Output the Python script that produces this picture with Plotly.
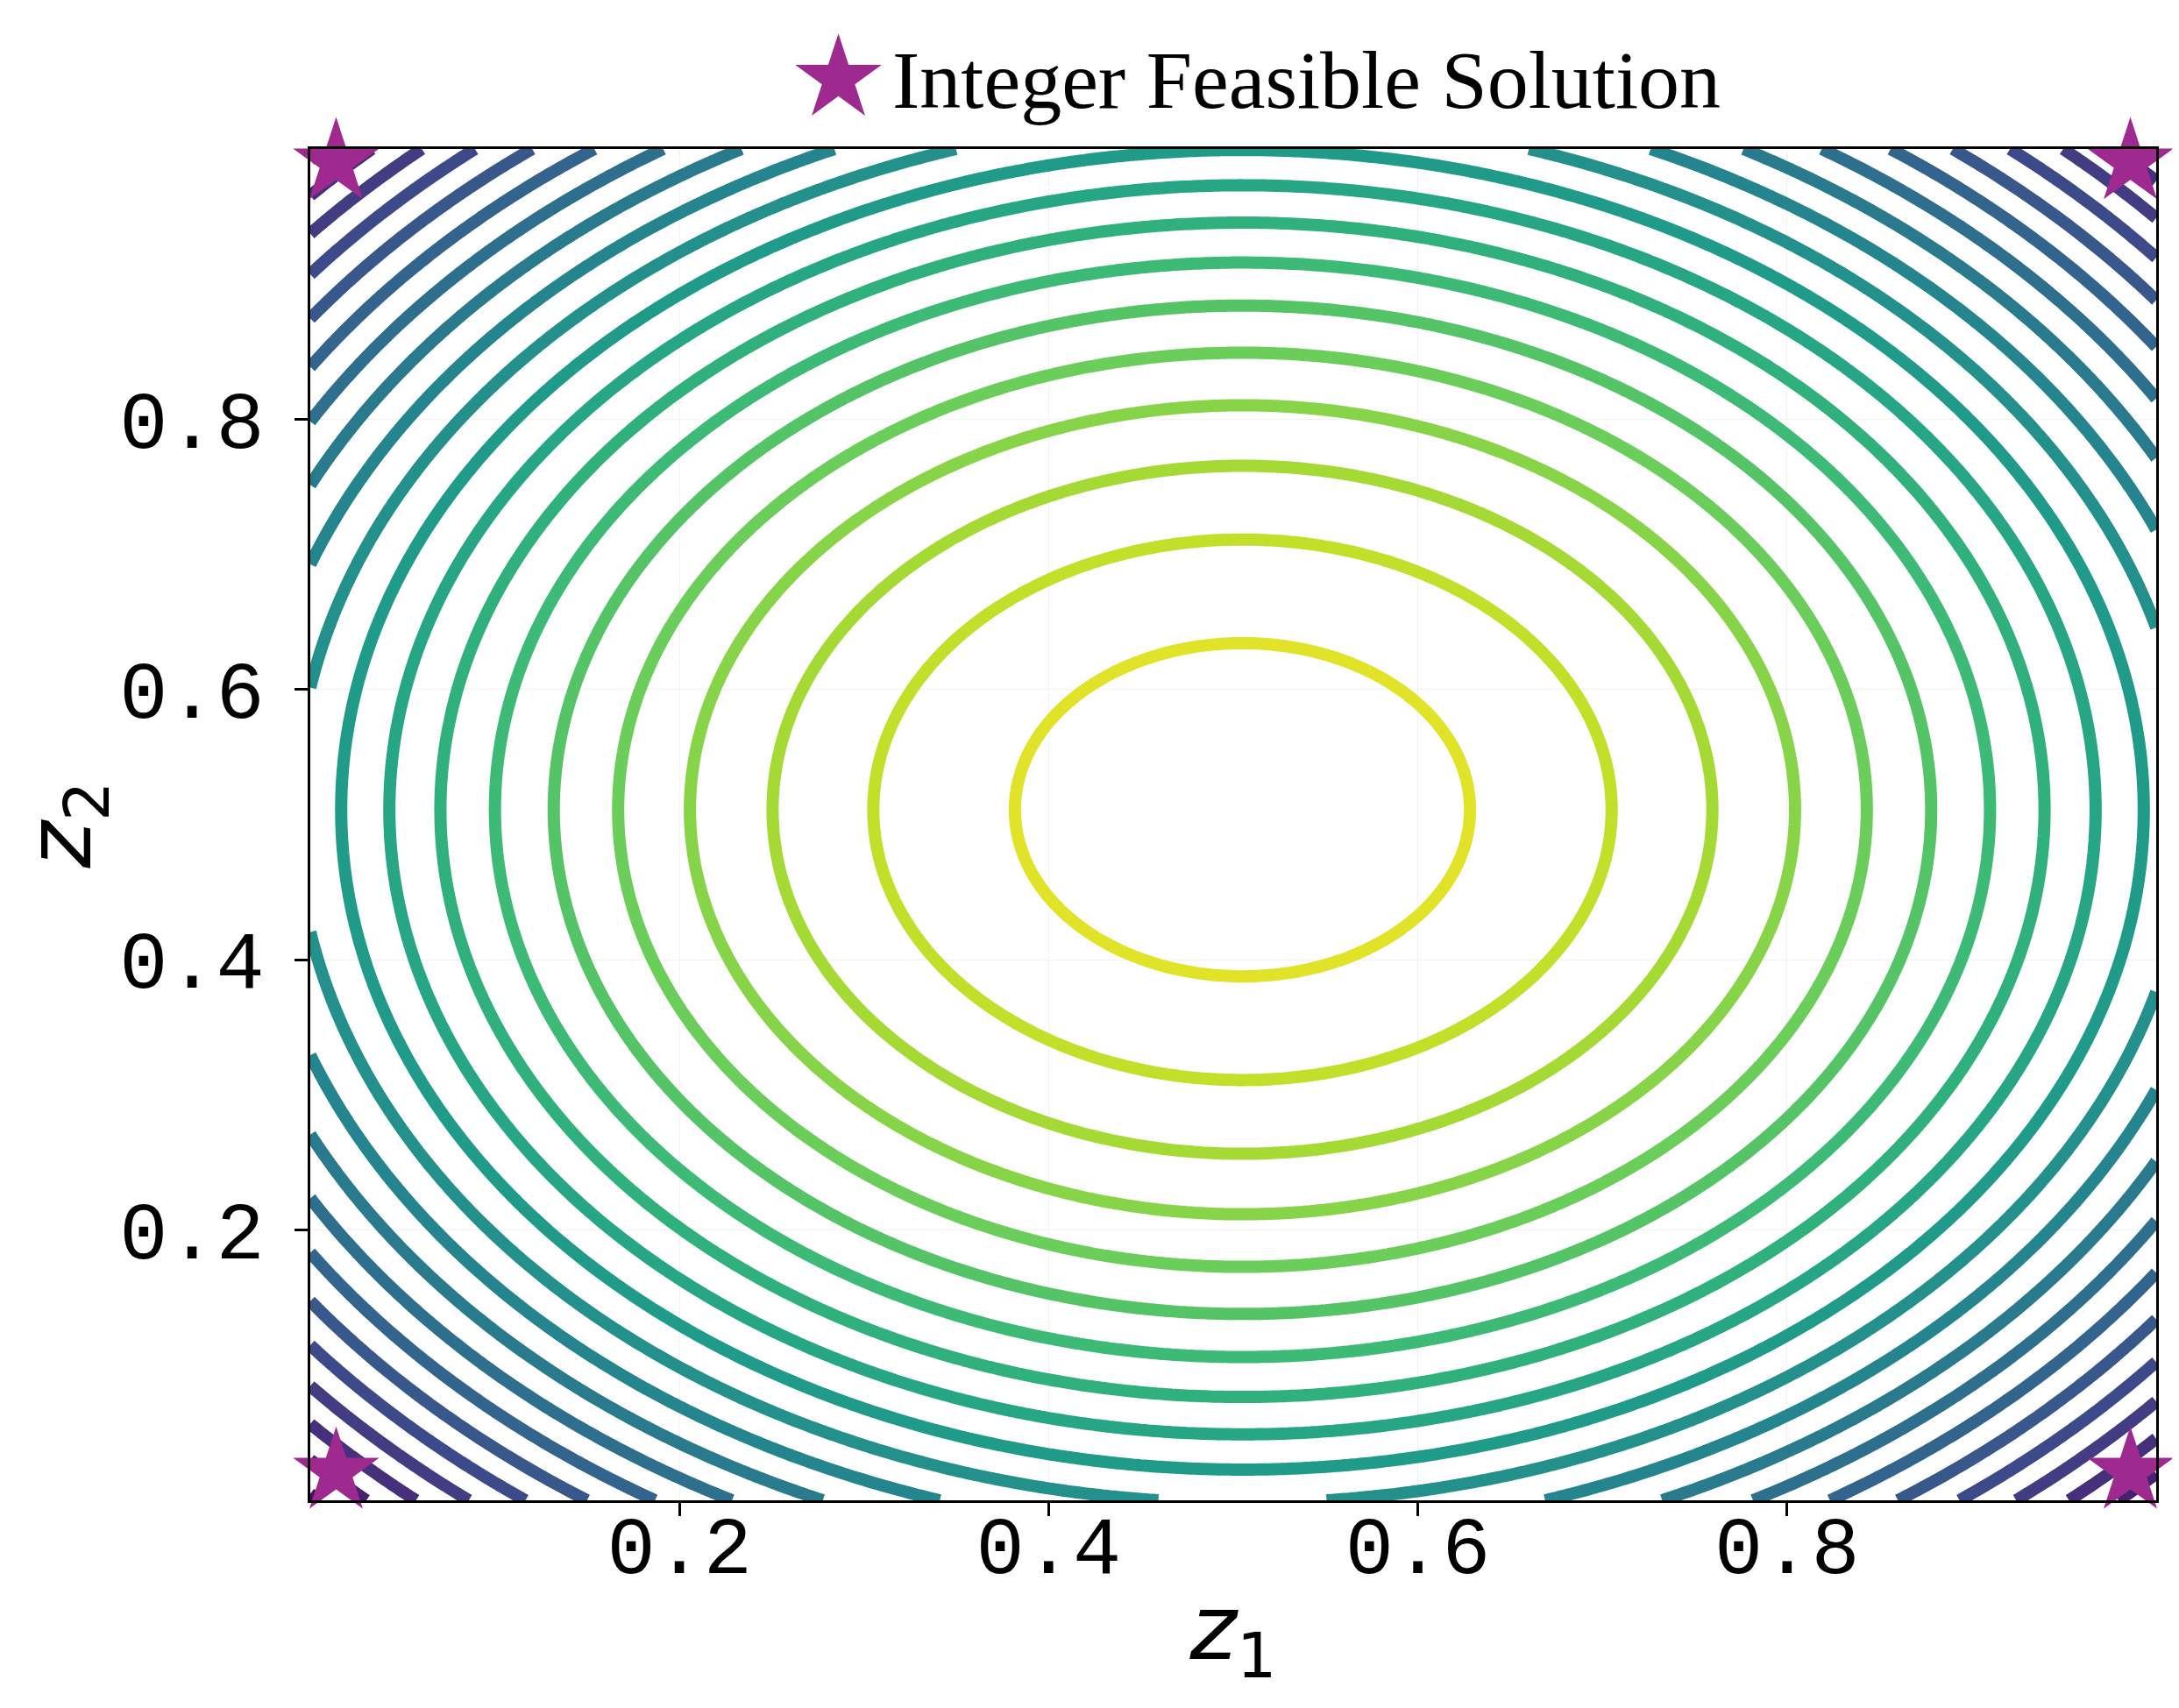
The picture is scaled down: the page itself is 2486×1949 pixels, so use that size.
import numpy as np
import plotly.graph_objects as go

# contour field: circles round a centre,
# levels evenly spaced in squared distance
center_z1 = 0.505
center_z2 = 0.511
level_first = 0.0152   # squared radius of the innermost ring
level_step = 0.0248    # spacing between rings
n_levels = 21

z1 = np.linspace(0, 1, 241)
z2 = np.linspace(0, 1, 241)
Z1, Z2 = np.meshgrid(z1, z2)
objective = -((Z1 - center_z1) ** 2 + (Z2 - center_z2) ** 2)

# integer feasible solutions (corner stars)
star_z1 = [0.014, 0.986, 0.014, 0.986]
star_z2 = [0.021, 0.021, 0.990, 0.990]

tick_vals = [0.2, 0.4, 0.6, 0.8]
tick_text = ["0.2", "0.4", "0.6", "0.8"]

# one empty level on each side, so the colours run like matplotlib's
c_start = -(level_first + n_levels * level_step)
c_end = -level_first + level_step

fig = go.Figure()

fig.add_trace(go.Contour(
    x=z1, y=z2, z=objective,
    colorscale="Viridis",
    autocontour=False,
    contours=dict(start=c_start, end=c_end, size=level_step, coloring="lines"),
    line=dict(width=14, smoothing=1.3),
    showscale=False,
    hoverinfo="skip",
))

fig.add_trace(go.Scatter(
    x=star_z1, y=star_z2, mode="markers",
    marker=dict(symbol="star", size=74, color="#9e2a8f", line=dict(width=0)),
    cliponaxis=False,
    showlegend=False,
))

# legend handle drawn by hand on a full-height overlay axis so the star keeps its size
fig.add_trace(go.Scatter(
    x=[0.2861], y=[0.9866], mode="markers",
    xaxis="x2", yaxis="y2",
    marker=dict(symbol="star", size=74, color="#9e2a8f", line=dict(width=0)),
    cliponaxis=False,
    showlegend=False,
))
fig.add_annotation(
    text="Integer Feasible Solution",
    xref="x2", yref="y2", x=0.3143, y=0.986,
    xanchor="left", yanchor="middle", showarrow=False,
    font=dict(family="Liberation Serif", size=94, color="black"),
)

axis_common = dict(
    range=[0, 1],
    tickvals=tick_vals, ticktext=tick_text,
    ticks="outside", ticklen=15, tickwidth=2.5, tickcolor="black",
    showline=True, linecolor="black", linewidth=2.5, mirror=True,
    showgrid=True, gridcolor="#f2f2f2", gridwidth=1,
    zeroline=False,
    tickfont=dict(family="Liberation Mono", size=92, color="black"),
)

fig.update_layout(
    width=2486, height=1949,
    margin=dict(l=346, r=34, t=60, b=245),
    plot_bgcolor="rgba(0,0,0,0)", paper_bgcolor="white",
    xaxis=dict(axis_common, ticklabelstandoff=-45, title=dict(
        text="<i>z</i><sub>1</sub>", standoff=0,
        font=dict(family="DejaVu Sans", size=102, color="black"))),
    yaxis=dict(axis_common, domain=[0, 0.93796], ticklabelstandoff=16, title=dict(
        text="<i>z</i><sub>2</sub>", standoff=8,
        font=dict(family="DejaVu Sans", size=102, color="black"))),
    xaxis2=dict(domain=[0, 1], range=[0, 1], anchor="y2", visible=False),
    yaxis2=dict(domain=[0, 1], range=[0, 1], anchor="x2", visible=False),
)

fig.write_html("out.html")
